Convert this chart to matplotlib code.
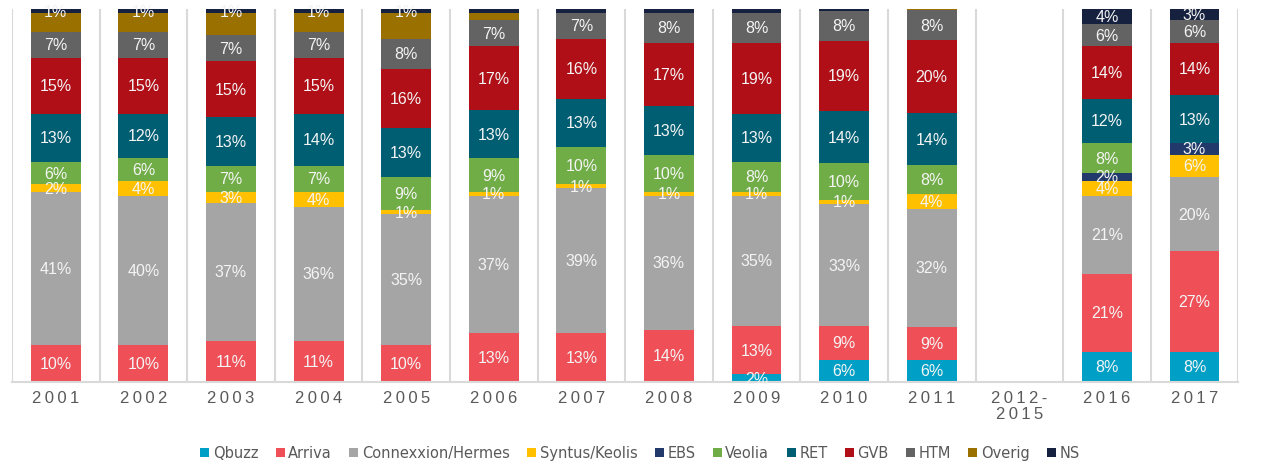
import numpy as np
import matplotlib
matplotlib.use("Agg")
from matplotlib import pyplot as plt

years = ["2001", "2002", "2003", "2004", "2005", "2006", "2007", "2008",
         "2009", "2010", "2011", "2012-\n2015", "2016", "2017"]
operators = ["Qbuzz", "Arriva", "Connexxion/Hermes", "Syntus/Keolis", "EBS",
             "Veolia", "RET", "GVB", "HTM", "Overig", "NS"]

qbuzz = [0, 0, 0, 0, 0, 0, 0, 0, 2, 6, 6, 0, 8, 8]
arriva = [10, 10, 11, 11, 10, 13, 13, 14, 13, 9, 9, 0, 21, 27]
connexxion = [41, 40, 37, 36, 35, 37, 39, 36, 35, 33, 32, 0, 21, 20]
syntus = [2, 4, 3, 4, 1, 1, 1, 1, 1, 1, 4, 0, 4, 6]
ebs = [0, 0, 0, 0, 0, 0, 0, 0, 0, 0, 0, 0, 2, 3]
veolia = [6, 6, 7, 7, 9, 9, 10, 10, 8, 10, 8, 0, 8, 0]
ret = [13, 12, 13, 14, 13, 13, 13, 13, 13, 14, 14, 0, 12, 13]
gvb = [15, 15, 15, 15, 16, 17, 16, 17, 19, 19, 20, 0, 14, 14]
htm = [7, 7, 7, 7, 8, 7, 7, 8, 8, 8, 8, 0, 6, 6]
overig = [5, 5, 6, 5, 7, 2, 0, 0, 0, 0, 0.3, 0, 0, 0]
ns = [1, 1, 1, 1, 1, 1, 1, 1, 1, 0.5, 0, 0, 4, 3]

# labels that were removed in the original chart
unlabelled = ["Overig"]
hidden = [("NS", "2006"), ("NS", "2007"), ("NS", "2008"),
          ("NS", "2009"), ("NS", "2010")]

colors = ["#00A0C6", "#EF4F57", "#A5A5A5", "#FFC000", "#213A6B", "#70AD47",
          "#005E73", "#B00F17", "#636363", "#9A7100", "#15213F"]

data = np.array([qbuzz, arriva, connexxion, syntus, ebs, veolia, ret, gvb,
                 htm, overig, ns], dtype=float)
totals = data.sum(axis=0)
totals[totals == 0] = 1
shares = data / totals * 100

fig = plt.figure(figsize=(12.8, 4.64), dpi=100)
ax = fig.add_axes([0.0094, 0.175, 0.958, 0.803])

x = np.arange(len(years))
bottom = np.zeros(len(years))
for i, name in enumerate(operators):
    ax.bar(x, shares[i], 0.57, bottom=bottom, color=colors[i], label=name,
           zorder=2)
    for j in range(len(years)):
        v = data[i, j]
        if v < 1 or name in unlabelled or (name, years[j]) in hidden:
            continue
        ax.text(x[j], bottom[j] + shares[i, j] / 2, "%d%%" % round(v),
                ha="center", va="center", color="#F4F4F4", fontsize=11.5,
                family=["Liberation Sans", "DejaVu Sans"], zorder=3)
    bottom += shares[i]

ax.set_xlim(-0.5, len(years) - 0.5)
ax.set_ylim(0, 100)
for b in np.arange(len(years) + 1) - 0.5:
    ax.axvline(b, color="#D9D9D9", lw=1.5, zorder=1)
for s in ["top", "right", "left"]:
    ax.spines[s].set_visible(False)
ax.spines["bottom"].set_color("#D9D9D9")
ax.spines["bottom"].set_linewidth(1.5)
ax.set_yticks([])
ax.set_xticks(x)
ax.set_xticklabels(["\n".join("\u2009".join(p) for p in y.split("\n"))
                    for y in years],
                   fontsize=12, color="#595959", linespacing=1.1,
                   family=["Liberation Sans", "DejaVu Sans"])
ax.tick_params(axis="x", length=0, pad=6)

fig.legend(loc="center", bbox_to_anchor=(0.5, 0.022), ncol=len(operators),
           frameon=False, handlelength=0.6, handleheight=0.6,
           handletextpad=0.25, columnspacing=1.2,
           prop={"family": ["Liberation Sans Narrow", "DejaVu Sans"],
                 "size": 10.5}, labelcolor="#595959")

fig.savefig("out.png", dpi=100)
